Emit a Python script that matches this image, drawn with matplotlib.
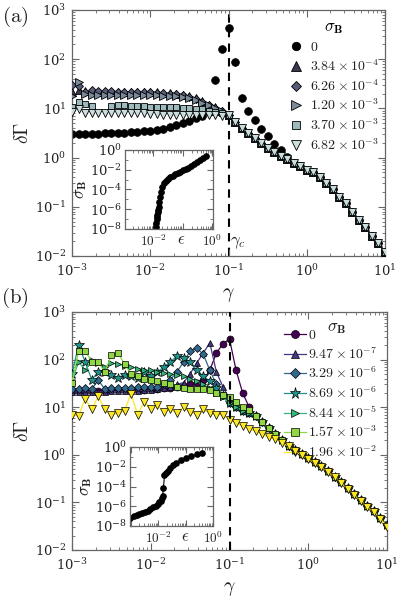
import numpy as np
import matplotlib
matplotlib.use("Agg")
import matplotlib.pyplot as plt
from matplotlib.ticker import LogLocator, FuncFormatter, NullFormatter

plt.rcParams['mathtext.fontset'] = 'cm'
plt.rcParams['font.family'] = ['DejaVu Serif']

# ---------------- data ----------------
gamma = np.logspace(-3, 1, 49)   # 12 points per decade
gamma_c = 0.1

# panel (a)
labels_a = [r'$0$', r'$3.84\times10^{-4}$', r'$6.26\times10^{-4}$', r'$1.20\times10^{-3}$',
            r'$3.70\times10^{-3}$', r'$6.82\times10^{-3}$']
markers_a = ['o', '^', 'D', '>', 's', 'v']
tail_a = [7.5, 5.3, 4.0, 3.1, 2.5, 2.0, 1.6, 1.3, 1.1, 0.95, 0.78, 0.66, 0.57, 0.5,
          0.40, 0.31, 0.23, 0.16, 0.12, 0.08, 0.055, 0.038, 0.026, 0.018, 0.012]
black_head_a = [3.0, 3.0, 3.0, 3.05, 3.05, 3.1, 3.1, 3.15, 3.2, 3.25, 3.3, 3.4,
                3.5, 3.6, 3.8, 4.1, 4.5, 5.0, 5.6, 6.3, 7.0, 8.5, 38, 158, 430,
                87, 16, 8.9, 5.8, 3.9, 2.7, 1.9, 1.4, 1.05]
up_head_a = [22, 24, 23, 22, 22, 22, 22, 22, 22, 22, 22, 22, 22, 22, 21, 21, 20, 19,
             18, 16, 14, 12, 10.5, 9]
dia_head_a = [30, 28, 22, 24, 23, 23, 23, 22, 22, 22, 22, 22, 22, 21, 21, 20, 20, 19,
              17, 15.5, 13.5, 11.5, 10, 8.7]
right_head_a = [18, 34, 20, 19, 19, 19, 19, 19, 19, 19, 19, 19, 19, 18.5, 18, 18, 17.5,
                17, 16, 14.5, 13, 11.5, 10, 8.8]
sq_head_a = [10.5, 13.4, 12.5, 11, np.nan, np.nan, 11, 11.5, 11.5, 11, 11, 11, 10.7,
             10.5, 10.5, 10.5, 10.5, 10, 10, 9.5, 9.5, 9, 8.5, 8.2]
down_head_a = [8.5, 9.5, 8, 8, 8, 8, 8, 8, 8, 8, 8, 8, 7.8, 7.6, 7.5, 7.5, 7.5, 7.5,
               7.5, 7.5, 7.4, 7.3, 7.2, 7.0]

# inset (a)
eps_a = [0.0124, 0.0127, 0.0130, 0.0133, 0.0137, 0.0141, 0.0146, 0.0152, 0.0160, 0.0170,
         0.0183, 0.020, 0.023, 0.027, 0.032, 0.038, 0.046, 0.056, 0.068, 0.083, 0.10,
         0.125, 0.155, 0.19, 0.24, 0.30, 0.38, 0.48, 0.60]
sig_a = [1.6e-8, 4.0e-8, 1.0e-7, 1.6e-7, 2.8e-7, 5.0e-7, 8.9e-7, 1.8e-6, 5.0e-6, 1.6e-5,
         5.6e-5, 1.6e-4, 4.5e-4, 7.9e-4, 1.26e-3, 1.9e-3, 2.6e-3, 3.5e-3, 4.7e-3, 6.3e-3,
         8.5e-3, 1.2e-2, 1.66e-2, 2.3e-2, 3.5e-2, 5.6e-2, 8.9e-2, 0.14, 0.22]

# panel (b)
labels_b = [r'$0$', r'$9.47\times10^{-7}$', r'$3.29\times10^{-6}$', r'$8.69\times10^{-6}$',
            r'$8.44\times10^{-5}$', r'$1.57\times10^{-3}$', r'$1.96\times10^{-2}$']
markers_b = ['o', '^', 'D', '*', '>', 's', 'v']
tail_b = [6.5, 4.8, 3.6, 2.7, 2.0, 1.55, 1.25, 1.02, 0.85, 0.70, 0.57, 0.46, 0.35,
          0.27, 0.20, 0.15, 0.11, 0.085, 0.065, 0.047, 0.033]          # k = 28..48
purple_head_b = [22, 22, 22, 22, 22, 22, 22.5, 22.5, 23, 23, 23, 23.5, 24, 24, 25, 25,
                 26, 28, 30, 32, 37, 60, 137, 215, 270, 60, 20, 10]
bp_head_b = [21, 21, 21, 21, 21, 21, 21.5, 21.5, 22, 22, 22, 22.5, 23, 24, 25, 27,
             30, 33, 50, 85, 137, 225, 55, 27, 15, 11, 9, 7.5]
blue_head_b = [24, 24, 25, 24, 37, 24, 25, 25, 25, 25, 26, 26, 27, 26, 30, 38, 55,
               90, 150, 175, 130, 60, 30, 18, 12, 10, 8.5, 7.5]
star_head_b = [50, 200, 90, 38, 55, 55, 48, 42, 48, 45, 42, 55, 45, 55, 70, 90, 120,
               110, 90, 60, 45, 35, 25, 17, 12, 10, 8.5, 7.5]
right_head_b = [35, 90, 60, 100, 85, 70, 85, 80, 75, 70, 65, 60, 60, 55, 52, 50, 48,
                45, 40, 35, 30, 25, 20, 16, 12, 10, 8.5, 7.5]
sq_head_b = [33, 150, 155, 90, 90, 55, 125, 140, 80, 50, 45, 40, 38, 35, 33, 30, 27,
             25, 24, 24, 24, 23, 20, 18, 16, 13, 10, 8.7]
yel_head_b = [7, 6.5, 15, 9, 17, 9, 7, 7.5, 8.5, 19, 7, 13, 9, 11, 8, 9, 7.5, 10, 8,
              7, 9, 7.5, 7, 7, 5.4, 4.7, 4.0, 3.5]
yel_tail_b = [3.1, 2.7, 2.35, 2.1, 1.8, 1.5, 1.2, 0.98, 0.82, 0.67, 0.55, 0.44, 0.34,
              0.26, 0.19, 0.145, 0.105, 0.08, 0.062, 0.045, 0.031]

# inset (b)
eps_b = [9.1e-4, 1.26e-3, 1.58e-3, 2.0e-3, 2.5e-3, 3.16e-3, 3.98e-3, 5.0e-3, 6.3e-3,
         7.9e-3, 9.3e-3, 1.07e-2, 1.2e-2, 1.32e-2, 1.41e-2, 1.51e-2, 1.66e-2, 1.9e-2,
         2.2e-2, 2.75e-2, 3.4e-2, 4.5e-2, 6.9e-2, 0.1, 0.16, 0.25, 0.4]
sig_b = [7.1e-8, 9.5e-8, 1.17e-7, 1.5e-7, 2.0e-7, 2.7e-7, 3.7e-7, 5.2e-7, 7.6e-7,
         1.12e-6, 1.6e-6, 2.4e-6, 3.8e-6, 6.3e-6, 1.2e-5, 6.3e-5, 1.35e-3, 2.4e-3,
         3.7e-3, 7.6e-3, 1.4e-2, 2.5e-2, 4.7e-2, 7.1e-2, 0.12, 0.18, 0.27]

series_a = [black_head_a + tail_a[10:],
            up_head_a + tail_a, dia_head_a + tail_a, right_head_a + tail_a,
            sq_head_a + tail_a, down_head_a + tail_a]
series_b = [purple_head_b + tail_b, bp_head_b + tail_b, blue_head_b + tail_b,
            star_head_b + tail_b, right_head_b + tail_b, sq_head_b + tail_b,
            yel_head_b + yel_tail_b]

# ---------------- figure ----------------
W, H = 399, 600
fig = plt.figure(figsize=(W / 100, H / 100), dpi=100)


def px_axes(x0, y0, x1, y1):
    return fig.add_axes([x0 / W, 1 - y1 / H, (x1 - x0) / W, (y1 - y0) / H])


SPINE = '#666666'
TXT = '#222222'


def style(ax, fs=9.5, maj=5, mnr=2.5):
    ax.set_xscale('log')
    ax.set_yscale('log')
    for s in ax.spines.values():
        s.set_color(SPINE)
        s.set_linewidth(0.9)
    ax.tick_params(which='both', direction='in', top=True, right=True,
                   colors=SPINE, labelcolor=TXT, labelsize=fs)
    ax.tick_params(which='major', length=maj, width=0.8)
    ax.tick_params(which='minor', length=mnr, width=0.6)


def main_axes(ax):
    style(ax)
    ax.set_xlim(1e-3, 1e1)
    ax.set_ylim(1e-2, 1e3)
    ax.xaxis.set_major_locator(LogLocator(base=10, numticks=20))
    ax.yaxis.set_major_locator(LogLocator(base=10, numticks=20))
    ax.xaxis.set_minor_locator(LogLocator(base=10, subs=np.arange(2, 10), numticks=20))
    ax.yaxis.set_minor_locator(LogLocator(base=10, subs=np.arange(2, 10), numticks=20))
    ax.xaxis.set_minor_formatter(NullFormatter())
    ax.yaxis.set_minor_formatter(NullFormatter())
    ax.tick_params(axis='x', pad=5)
    ax.tick_params(axis='y', pad=4)
    ax.set_xlabel(r'$\gamma$', fontsize=14, color=TXT, labelpad=5)
    ax.set_ylabel(r'$\delta\Gamma$', fontsize=14, color=TXT, labelpad=2)


def sel_fmt(keep):
    def f(v, pos):
        e = int(round(np.log10(v)))
        return r'$10^{%d}$' % e if e in keep else ''
    return FuncFormatter(f)


def inset_axes(ax):
    style(ax, fs=9.5, maj=4, mnr=2)
    ax.set_xlim(1.1e-3, 1.05)
    ax.set_ylim(1e-8, 1e0)
    ax.xaxis.set_major_locator(LogLocator(base=10, numticks=20))
    ax.xaxis.set_minor_locator(LogLocator(base=10, subs=np.arange(2, 10), numticks=20))
    ax.xaxis.set_major_formatter(sel_fmt([-2, 0]))
    ax.xaxis.set_minor_formatter(NullFormatter())
    ax.set_yticks([1e-8, 1e-6, 1e-4, 1e-2, 1e0])
    ax.yaxis.set_minor_locator(LogLocator(base=10, subs=[1.0], numticks=20))
    ax.yaxis.set_minor_formatter(NullFormatter())
    ax.tick_params(axis='x', pad=3)
    ax.tick_params(axis='y', pad=2)
    ax.set_xlabel(r'$\epsilon$', fontsize=12, color=TXT)
    ax.xaxis.set_label_coords(0.64, -0.03)
    ax.xaxis.label.set_va('top')
    ax.set_ylabel(r'$\sigma_{\mathbf{B}}$', fontsize=12, color=TXT, labelpad=1)


# ---- panel (a)
axa = px_axes(72, 10, 385, 256)
main_axes(axa)
axa.axvline(gamma_c, color='black', ls=(0, (4, 3)), lw=1.5, zorder=1)
cols_a = [plt.cm.bone(v) for v in [0.0, 0.25, 0.4, 0.55, 0.7, 0.85]]
ms_a = {'o': 5.5, '^': 6, 'D': 4.5, '>': 6, 's': 5, 'v': 6}
for i, (vals, m, lab) in enumerate(zip(series_a, markers_a, labels_a)):
    axa.plot(gamma, vals, ls='none', marker=m, ms=ms_a[m], color=cols_a[i],
             mec='black' if i else cols_a[0], mew=0.6, label=lab, zorder=2 + i)
axa.text(0.105, 0.0125, r'$\gamma_c$', fontsize=12, color=TXT, ha='left', va='bottom')
leg = axa.legend(loc='upper left', bbox_to_anchor=((289 - 72) / 313, (256 - 18) / 246),
                 frameon=False, fontsize=10, handlelength=1.0, handletextpad=0.5,
                 labelspacing=0.3, borderaxespad=0, borderpad=0, markerscale=1.1,
                 title=r'$\sigma_{\mathbf{B}}$', title_fontsize=12)
for t in leg.get_texts():
    t.set_color(TXT)

insa = px_axes(125, 150, 213, 229)
inset_axes(insa)
insa.plot(eps_a, sig_a, ls='none', marker='o', ms=3.8, color='black')

# ---- panel (b)
axb = px_axes(72, 312, 387, 550)
main_axes(axb)
cols_b = [plt.cm.viridis(v) for v in np.linspace(0, 1, 7)]
ms_b = {'o': 5, '^': 5, 'D': 4.2, '*': 7, '>': 5, 's': 4.5, 'v': 5.5}
for i, (vals, m, lab) in enumerate(zip(series_b, markers_b, labels_b)):
    axb.plot(gamma, vals, ls='-', lw=0.9, marker=m, ms=ms_b[m], color=cols_b[i],
             mec='black', mew=0.5, label=lab, zorder=2 + i)
axb.axvline(gamma_c, color='black', ls=(0, (4, 3)), lw=1.5, zorder=20)
legb = axb.legend(loc='upper left', bbox_to_anchor=((284 - 72) / 315, (550 - 328) / 238),
                  frameon=False, fontsize=10, handlelength=1.6, handletextpad=0.1,
                  labelspacing=0.28, borderaxespad=0, borderpad=0, markerscale=1.15)
for t in legb.get_texts():
    t.set_color(TXT)
fig.text(337 / W, 1 - 328 / H, r'$\sigma_{\mathbf{B}}$', fontsize=12, color=TXT,
         ha='center', va='center')

insb = px_axes(130, 447, 213, 526)
inset_axes(insb)
insb.set_xlim(9e-4, 1.0)
insb.xaxis.set_label_coords(0.66, -0.03)
insb.plot(eps_b, sig_b, ls='-', lw=0.8, marker='o', ms=3.8, color='black')

# panel letters
fig.text(15 / W, 1 - 17 / H, r'$\mathrm{(a)}$', fontsize=15, color=TXT, ha='center', va='center')
fig.text(15 / W, 1 - 298 / H, r'$\mathrm{(b)}$', fontsize=15, color=TXT, ha='center', va='center')

fig.savefig('out.png', dpi=100)
